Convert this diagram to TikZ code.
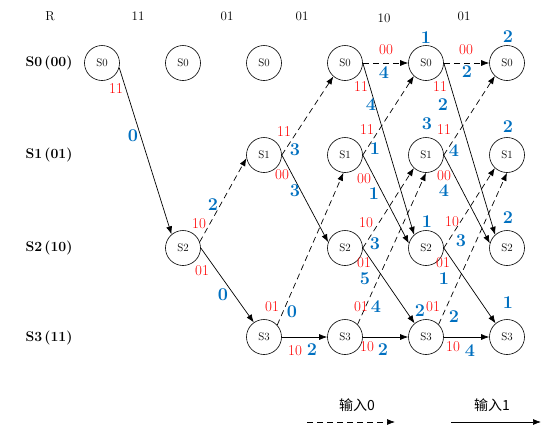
\documentclass[tikz,border=0pt]{standalone}
\usepackage{fontspec}
\newfontfamily\cjk{Noto Sans CJK SC}
\usetikzlibrary{arrows.meta}
\definecolor{lred}{RGB}{255,0,0}
\definecolor{lblue}{RGB}{0,112,192}
\tikzset{
  st/.style={circle,draw,line width=0.6pt,minimum size=35pt,inner sep=0pt,font=\fontsize{11}{11}\selectfont},
  rl/.style={text=lred,font=\fontsize{15}{15}\selectfont,inner sep=0pt},
  bl/.style={text=lblue,font=\fontsize{18}{18}\selectfont\bfseries,inner sep=0pt},
  hd/.style={font=\fontsize{13}{13}\selectfont,inner sep=0pt},
  rowl/.style={font=\fontsize{14}{14}\selectfont\bfseries,inner sep=0pt},
  lg/.style={font=\fontsize{14}{14}\selectfont\cjk,inner sep=0pt},
  one/.style={-{Latex[length=8pt,width=6pt]},line width=0.7pt},
  zero/.style={one,dash pattern=on 6pt off 4pt},
}
\begin{document}
\begin{tikzpicture}[x=1pt,y=-1pt]
\fill[white] (0,0) rectangle (550,429);
\useasboundingbox (0,0) rectangle (550,429);
% headers
\foreach \x/\y/\t [count=\i] in {50/16/R,138/16/11,227/16/01,302/16/01,384/18/10,464/16/01}
  \node[hd] (h\i) at (\x,\y) {\t};
% row labels
\node[rowl] (row0) at (49,63) {S0\,(00)};
\node[rowl] (row1) at (49,155) {S1\,(01)};
\node[rowl] (row2) at (49,248) {S2\,(10)};
\node[rowl] (row3) at (49,338) {S3\,(11)};
% states
\foreach \c/\x in {1/102,2/183,3/264,4/345,5/426,6/507}
  \node[st] (s0c\c) at (\x,63) {S0};
\foreach \c/\x in {3/264,4/345,5/426,6/507}
  \node[st] (s1c\c) at (\x,155) {S1};
\foreach \c/\x in {2/183,4/345,5/426,6/507}
  \node[st] (s2c\c) at (\x,248) {S2};
\foreach \c/\x in {3/264,4/345,5/426,6/507}
  \node[st] (s3c\c) at (\x,337) {S3};
% edges
\draw[one] (s0c1.-15) -- (s2c2.130);
\draw[zero] (s2c2.20) -- (s1c3.190);
\draw[one] (s2c2.east) -- (s3c3.125);
\draw[zero] (s1c3.east) -- (s0c4.229);
\draw[one] (s1c3.east) -- (s2c4.161);
\draw[zero] (s3c3.42) -- (s1c4.265);
\draw[one] (s3c3.east) -- (s3c4.west);
\foreach \a/\b in {4/5,5/6}{
  \draw[zero] (s0c\a.east) -- (s0c\b.west);
  \draw[one] (s0c\a.east) -- (s2c\b.132);
  \draw[zero] (s1c\a.east) -- (s0c\b.227);
  \draw[one] (s1c\a.east) -- (s2c\b.165);
  \draw[zero] (s2c\a.east) -- (s1c\b.227);
  \draw[one] (s2c\a.east) -- (s3c\b.130);
  \draw[zero] (s3c\a.45) -- (s1c\b.270);
  \draw[one] (s3c\a.east) -- (s3c\b.west);
}
% red labels
\foreach \x/\y/\t [count=\i] in {116/89/11,199/224/10,202/271/01,284/132/11,282/175/00,272/307/01,295/351/10,
  386/50/00,361/87/11,367/130/11,364/179/00,366/223/10,364/263/01,361/307/01,367/347/10,
  466/50/00,440/87/11,444/130/11,444/176/00,452/222/10,443/263/01,433/307/01,453/347/10}
  \node[rl] (r\i) at (\x,\y) {\t};
% blue labels
\foreach \x/\y/\t [count=\i] in {133/136/0,213/205/2,223/295/0,295/150/3,295/191/3,292/312/0,312/350/2,
  384/73/4,371/105/4,375/149/1,374/194/1,375/244/3,365/279/5,376/307/4,383/350/2,
  426/38/1,467/72/2,443/105/2,427/124/3,454/151/4,444/191/4,427/222/1,461/241/3,444/279/1,420/311/2,454/317/2,470/351/4,
  508/37/2,508/127/2,508/218/2,508/303/1}
  \node[bl] (b\i) at (\x,\y) {\t};
% legend
\node[lg] (lg0) at (357,405) {输入0};
\node[lg] (lg1) at (492,405) {输入1};
\coordinate (l0a) at (307,422);
\coordinate (l0b) at (395,422);
\coordinate (l1a) at (451,422);
\coordinate (l1b) at (541,422);
\draw[zero] (l0a) -- (l0b);
\draw[one] (l1a) -- (l1b);
\end{tikzpicture}
\end{document}
